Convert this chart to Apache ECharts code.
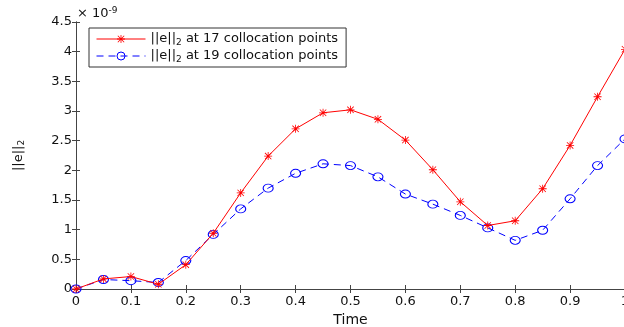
<!DOCTYPE html>
<html>
<head>
<meta charset="utf-8">
<script src="https://cdn.jsdelivr.net/npm/echarts@6/dist/echarts.min.js"></script>
<style>
  html, body { margin: 0; padding: 0; background: #fff; }
  #chart { width: 624px; height: 327px; }
</style>
</head>
<body>
<div id="chart"></div>
<script>
// values in units of 1e-9
const times = [0, 0.05, 0.1, 0.15, 0.2, 0.25, 0.3, 0.35, 0.4, 0.45, 0.5,
  0.55, 0.6, 0.65, 0.7, 0.75, 0.8, 0.85, 0.9, 0.95, 1]
const err17 = [0, 0.17, 0.21, 0.08, 0.41, 0.94, 1.62, 2.24, 2.70, 2.97, 3.02,
  2.86, 2.51, 2.01, 1.47, 1.07, 1.15, 1.69, 2.42, 3.24, 4.04]
const err19 = [0, 0.16, 0.14, 0.11, 0.48, 0.92, 1.35, 1.70, 1.95, 2.11, 2.08,
  1.89, 1.60, 1.43, 1.24, 1.03, 0.82, 0.99, 1.52, 2.08, 2.53]
const seriesNames = ['17', '19']

const FONT = '"DejaVu Sans", sans-serif'
const AXIS_COLOR = '#444'

// asterisk: plus and cross, all sub-paths wound the same way
const STAR = 'path://M9,0 L11,0 L11,20 L9,20 Z M0,9 L20,9 L20,11 L0,11 Z ' +
  'M1.3,2.7 L2.7,1.3 L18.7,17.3 L17.3,18.7 Z M17.3,1.3 L18.7,2.7 L2.7,18.7 L1.3,17.3 Z'

const pairs = (ys) => times.map((t, i) => [t, ys[i]])

const boxAxis = {
  min: 0,
  axisLine: { show: true, lineStyle: { color: AXIS_COLOR, width: 1 } },
  axisTick: { show: true, inside: true, length: 4, lineStyle: { color: AXIS_COLOR } },
  axisLabel: { show: false },
  splitLine: { show: false },
}

const chart = echarts.init(document.getElementById('chart'), null, { renderer: 'canvas' })

chart.setOption({
  animation: false,
  backgroundColor: '#fff',
  grid: { left: 76, top: 22, width: 549, height: 267, containLabel: false, outerBoundsMode: 'none' },
  legend: {
    left: 89,
    top: 28,
    orient: 'vertical',
    backgroundColor: '#fff',
    borderColor: '#333',
    borderWidth: 1,
    padding: [3, 8, 3, 7],
    itemWidth: 49,
    itemHeight: 10,
    itemGap: 1,
    lineStyle: { width: 1 },
    itemStyle: { borderWidth: 1 },
    formatter: (name) => '||e||{sub|2} at ' + name + ' collocation points',
    textStyle: {
      fontFamily: FONT,
      fontSize: 13,
      color: '#111',
      lineHeight: 16,
      rich: {
        sub: { fontFamily: FONT, fontSize: 9, verticalAlign: 'bottom', lineHeight: 9, padding: [6, 0, 0, 0] },
      },
    },
    data: seriesNames,
  },
  graphic: [{
    type: 'text',
    left: 77,
    top: 6,
    style: {
      text: '× 10{sup|-9}',
      font: '13px ' + FONT,
      fill: '#111',
      rich: {
        sup: { fontFamily: FONT, fontSize: 9, verticalAlign: 'top', padding: [0, 0, 6, 0] },
      },
    },
  }],
  xAxis: [{
    ...boxAxis,
    type: 'value',
    max: 1,
    interval: 0.1,
    position: 'bottom',
    axisLabel: { show: true, margin: 6, fontFamily: FONT, fontSize: 13, color: '#111' },
    name: 'Time',
    nameLocation: 'middle',
    nameGap: 15,
    nameTextStyle: { fontFamily: FONT, fontSize: 14, color: '#111' },
  }, {
    ...boxAxis,
    type: 'value',
    max: 1,
    interval: 0.1,
    position: 'top',
  }],
  yAxis: [{
    ...boxAxis,
    type: 'value',
    max: 4.5,
    interval: 0.5,
    position: 'left',
    axisLabel: { show: true, margin: 4, fontFamily: FONT, fontSize: 13, color: '#111' },
    name: '||e||{sub|2}',
    nameLocation: 'middle',
    nameRotate: 90,
    nameGap: 50,
    nameTextStyle: {
      fontFamily: FONT,
      fontSize: 13,
      color: '#111',
      rich: {
        sub: { fontFamily: FONT, fontSize: 9, verticalAlign: 'bottom', padding: [6, 0, 0, 0] },
      },
    },
  }, {
    ...boxAxis,
    type: 'value',
    max: 4.5,
    interval: 0.5,
    position: 'right',
  }],
  series: [{
    name: seriesNames[0],
    type: 'line',
    z: 3,
    data: pairs(err17),
    symbol: STAR,
    symbolSize: 8,
    showAllSymbol: true,
    lineStyle: { color: '#ff0000', width: 1 },
    itemStyle: { color: '#ff0000' },
  }, {
    name: seriesNames[1],
    type: 'line',
    z: 2,
    data: pairs(err19),
    symbol: 'circle',
    symbolSize: [10, 8],
    showAllSymbol: true,
    lineStyle: { color: '#0000ff', width: 1, type: [7, 5] },
    itemStyle: { color: 'rgba(255,255,255,0)', borderColor: '#0000ff', borderWidth: 1 },
  }],
})
</script>
</body>
</html>
